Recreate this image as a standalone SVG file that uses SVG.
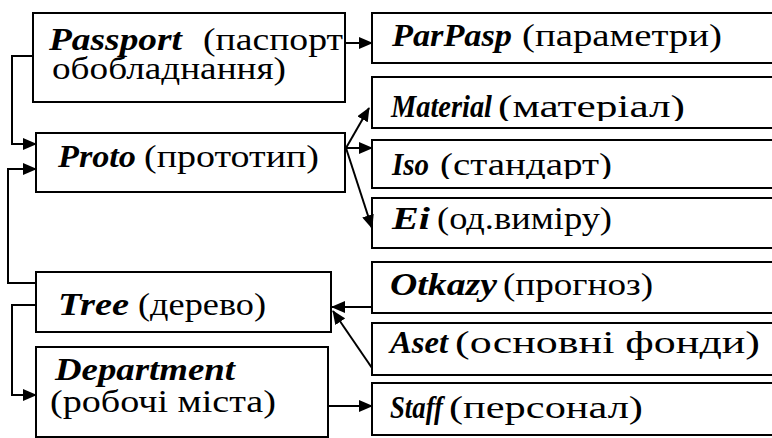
<svg xmlns="http://www.w3.org/2000/svg" width="772" height="438" viewBox="0 0 772 438">
<style>
.box{fill:#fff;stroke:#000;stroke-width:2}
text{font-family:"Liberation Serif","Times New Roman",serif;font-size:31px;fill:#000}
.b{font-weight:bold;font-style:italic}
.c{fill:none;stroke:#000;stroke-width:2}
</style>
<defs>
<marker id="ah" markerUnits="userSpaceOnUse" markerWidth="14" markerHeight="12" refX="13" refY="6" orient="auto">
<path d="M0,0 L14,6 L0,12 Z" fill="#000"/>
</marker>
<clipPath id="cMat"><rect x="373" y="78" width="400" height="43"/></clipPath>
<clipPath id="cIso"><rect x="373" y="141" width="400" height="38"/></clipPath>
<clipPath id="cEi"><rect x="373" y="199" width="400" height="38"/></clipPath>
</defs>

<g id="passport">
<rect class="box" x="33" y="13" width="312" height="89"/>
<text class="b" x="49" y="50" textLength="133" lengthAdjust="spacingAndGlyphs">Passport</text>
<text x="203" y="50" textLength="140" lengthAdjust="spacingAndGlyphs">(паспорт</text>
<text x="52" y="79" textLength="234" lengthAdjust="spacingAndGlyphs">обобладнання)</text>
</g>
<g id="proto">
<rect class="box" x="36" y="133" width="309" height="59"/>
<text class="b" x="58" y="167" textLength="78" lengthAdjust="spacingAndGlyphs">Proto</text>
<text x="144" y="167" textLength="175" lengthAdjust="spacingAndGlyphs">(прототип)</text>
</g>
<g id="tree">
<rect class="box" x="36" y="272" width="295" height="60"/>
<text class="b" x="58" y="315" textLength="71" lengthAdjust="spacingAndGlyphs">Tree</text>
<text x="138" y="315" textLength="128" lengthAdjust="spacingAndGlyphs">(дерево)</text>
</g>
<g id="department">
<rect class="box" x="36" y="347" width="292" height="90"/>
<text class="b" x="55" y="380" textLength="180" lengthAdjust="spacingAndGlyphs">Department</text>
<text x="50" y="412" textLength="226" lengthAdjust="spacingAndGlyphs">(робочі міста)</text>
</g>
<g id="parpasp">
<rect class="box" x="372" y="13" width="402" height="50"/>
<text class="b" x="392" y="46" textLength="120" lengthAdjust="spacingAndGlyphs">ParPasp</text>
<text x="522" y="46" textLength="200" lengthAdjust="spacingAndGlyphs">(параметри)</text>
</g>
<g id="material">
<rect class="box" x="372" y="77" width="402" height="51"/>
<g clip-path="url(#cMat)">
<text class="b" x="391" y="117" textLength="101" lengthAdjust="spacingAndGlyphs">Material</text>
<text x="498" y="117" textLength="187" lengthAdjust="spacingAndGlyphs">(матеріал)</text>
</g>
</g>
<g id="iso">
<rect class="box" x="372" y="140" width="402" height="48"/>
<g clip-path="url(#cIso)">
<text class="b" x="392" y="175" textLength="37" lengthAdjust="spacingAndGlyphs">Iso</text>
<text x="440" y="175" textLength="172" lengthAdjust="spacingAndGlyphs">(стандарт)</text>
</g>
</g>
<g id="ei">
<rect class="box" x="372" y="198" width="402" height="50"/>
<g clip-path="url(#cEi)">
<text class="b" x="392" y="229" textLength="38" lengthAdjust="spacingAndGlyphs">Ei</text>
<text x="437" y="229" textLength="175" lengthAdjust="spacingAndGlyphs">(од.виміру)</text>
</g>
</g>
<g id="otkazy">
<rect class="box" x="372" y="262" width="402" height="51"/>
<text class="b" x="390" y="295" textLength="107" lengthAdjust="spacingAndGlyphs">Otkazy</text>
<text x="503" y="295" textLength="150" lengthAdjust="spacingAndGlyphs">(прогноз)</text>
</g>
<g id="aset">
<rect class="box" x="372" y="323" width="402" height="52"/>
<text class="b" x="390" y="353" textLength="58" lengthAdjust="spacingAndGlyphs">Aset</text>
<text x="455" y="353" textLength="305" lengthAdjust="spacingAndGlyphs">(основні фонди)</text>
</g>
<g id="staff">
<rect class="box" x="372" y="383" width="402" height="52"/>
<text class="b" x="390" y="418" textLength="53" lengthAdjust="spacingAndGlyphs">Staff</text>
<text x="449" y="418" textLength="194" lengthAdjust="spacingAndGlyphs">(персонал)</text>
</g>

<g id="connectors">
<path class="c" d="M345,43 L372,43" marker-end="url(#ah)"/>
<path class="c" d="M33,56 L12,56 L12,144 L36,144" marker-end="url(#ah)"/>
<path class="c" d="M36,283 L8,283 L8,169 L36,169" marker-end="url(#ah)"/>
<path class="c" d="M36,305 L12,305 L12,395 L36,395" marker-end="url(#ah)"/>
<path class="c" d="M328,406 L372,406" marker-end="url(#ah)"/>
<path class="c" d="M372,307 L332,307" marker-end="url(#ah)"/>
<path class="c" d="M372,368 L333,311" marker-end="url(#ah)"/>
<path class="c" d="M346,148 L369,108" marker-end="url(#ah)"/>
<path class="c" d="M346,148 L372,148" marker-end="url(#ah)"/>
<path class="c" d="M346,148 L372,228" marker-end="url(#ah)"/>
</g>
</svg>
